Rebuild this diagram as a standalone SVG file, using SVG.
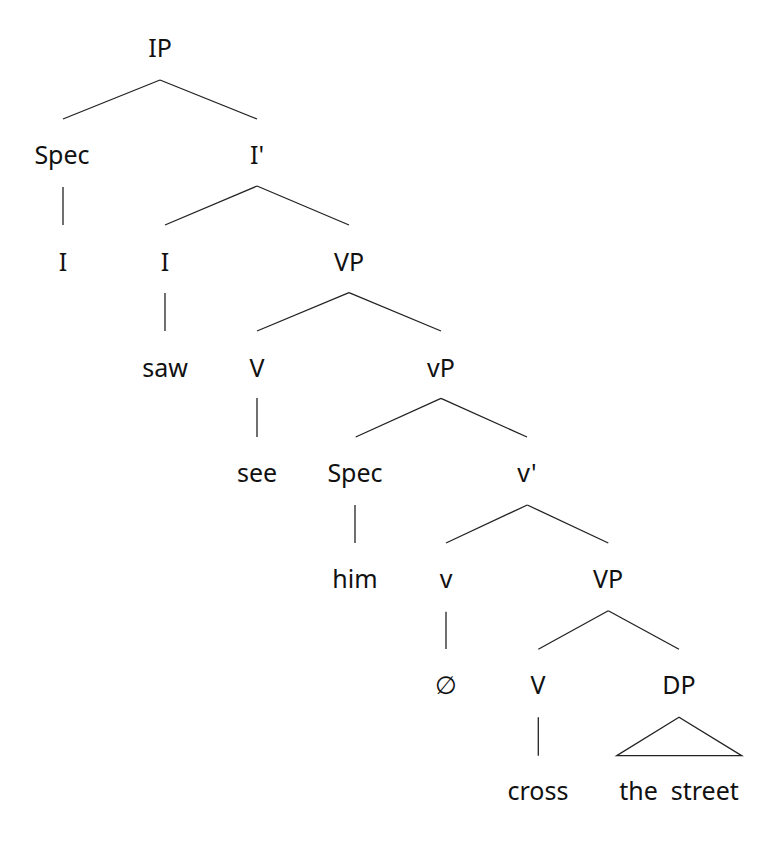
<svg xmlns="http://www.w3.org/2000/svg" width="784" height="845" viewBox="0 0 784 845">
<style>
text{font-family:"Noto Sans","Open Sans","DejaVu Sans",sans-serif;font-size:25px;fill:#111;text-anchor:middle}
.e line,.e polygon{stroke:#222;stroke-width:1.3;fill:none}
</style>
<rect width="784" height="845" fill="#fff"/>
<g class="e" id="connectors">
<line x1="160" y1="80" x2="63" y2="119"/>
<line x1="160" y1="80" x2="257" y2="119"/>
<line x1="63" y1="187" x2="63" y2="225"/>
<line x1="257" y1="186" x2="165" y2="225"/>
<line x1="257" y1="186" x2="349" y2="225"/>
<line x1="165" y1="293" x2="165" y2="331"/>
<line x1="349" y1="292.7" x2="257" y2="331"/>
<line x1="349" y1="292.7" x2="441" y2="331"/>
<line x1="257" y1="398" x2="257" y2="437"/>
<line x1="441" y1="398.3" x2="355.7" y2="437"/>
<line x1="441" y1="398.3" x2="527" y2="437"/>
<line x1="355" y1="505" x2="355" y2="543"/>
<line x1="527.3" y1="505" x2="446" y2="543"/>
<line x1="527.3" y1="505" x2="608.3" y2="543"/>
<line x1="446" y1="611.7" x2="446" y2="649"/>
<line x1="608.3" y1="610.7" x2="538.3" y2="649.3"/>
<line x1="608.3" y1="610.7" x2="679" y2="649.3"/>
<line x1="538.3" y1="717.3" x2="538.3" y2="755.7"/>
<polygon points="679,717.3 616.7,755.7 741.7,755.7"/>
</g>
<g id="n-IP"><text x="160" y="57">IP</text></g>
<g id="n-Spec1"><text x="62" y="164">Spec</text></g>
<g id="n-Ibar"><text x="257" y="164">I'</text></g>
<g id="n-I-pron"><text x="63" y="271">I</text></g>
<g id="n-I"><text x="165" y="271">I</text></g>
<g id="n-VP1"><text x="349" y="271">VP</text></g>
<g id="n-saw"><text x="165" y="377">saw</text></g>
<g id="n-V1"><text x="257" y="377">V</text></g>
<g id="n-vP"><text x="441" y="377">vP</text></g>
<g id="n-see"><text x="257" y="482">see</text></g>
<g id="n-Spec2"><text x="355" y="482">Spec</text></g>
<g id="n-vbar"><text x="527" y="482">v'</text></g>
<g id="n-him"><text x="355" y="588">him</text></g>
<g id="n-v"><text x="446" y="588">v</text></g>
<g id="n-VP2"><text x="608" y="588">VP</text></g>
<g id="n-null"><text x="446" y="694">∅</text></g>
<g id="n-V2"><text x="538" y="694">V</text></g>
<g id="n-DP"><text x="679" y="694">DP</text></g>
<g id="n-cross"><text x="538" y="800">cross</text></g>
<g id="n-street"><text x="679" y="800" xml:space="preserve">the  street</text></g>
</svg>
